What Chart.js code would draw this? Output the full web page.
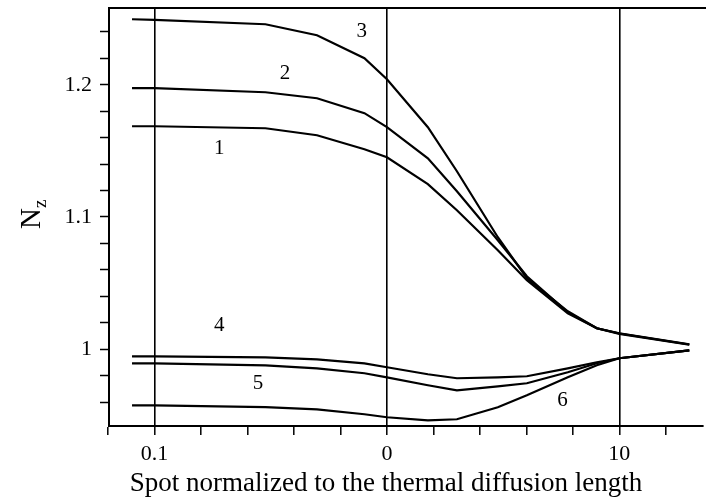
<!DOCTYPE html>
<html>
<head>
<meta charset="utf-8">
<script src="https://cdn.jsdelivr.net/npm/chart.js@4.4.0/dist/chart.umd.min.js"></script>
<style>
  html, body { margin: 0; padding: 0; background: #fff; }
  #wrap { width: 706px; height: 503px; position: relative; }
</style>
</head>
<body>
<div id="wrap"><canvas id="c"></canvas></div>
<script>
// spot size (normalized)
const spots = [0.08, 0.1, 0.3, 0.5, 0.8, 1, 1.5, 2, 3, 4, 6, 8, 10, 20];

// Nz for each curve
const curve1 = [1.1686, 1.1686, 1.1671, 1.1618, 1.1512, 1.1452, 1.1248, 1.1051, 1.0749, 1.0522, 1.0272, 1.0159, 1.0117, 1.0034];
const curve2 = [1.1974, 1.1974, 1.1943, 1.1898, 1.1785, 1.1679, 1.1444, 1.1195, 1.0824, 1.0552, 1.0280, 1.0159, 1.0119, 1.0036];
const curve3 = [1.2495, 1.2490, 1.2457, 1.2374, 1.2200, 1.2042, 1.1679, 1.1346, 1.0847, 1.0537, 1.0287, 1.0159, 1.0121, 1.0038];
const curve4 = [0.9947, 0.9947, 0.9939, 0.9924, 0.9894, 0.9864, 0.9811, 0.9781, 0.9788, 0.9796, 0.9856, 0.9902, 0.9932, 0.9992];
const curve5 = [0.9894, 0.9894, 0.9879, 0.9856, 0.9819, 0.9788, 0.9728, 0.9690, 0.9720, 0.9743, 0.9826, 0.9894, 0.9932, 0.9992];
const curve6 = [0.9576, 0.9576, 0.9562, 0.9546, 0.9509, 0.9486, 0.9463, 0.9471, 0.9562, 0.9652, 0.9788, 0.9879, 0.9932, 0.9992];

// curve number labels: [text, spot, Nz]
const curveLabels = [
    ['1', 0.19, 1.152],
    ['2', 0.364, 1.2087],
    ['3', 0.78, 1.2405],
    ['4', 0.19, 1.0181],
    ['5', 0.279, 0.9743],
    ['6', 5.7, 0.9614]
];

// x tick labels as printed in the figure (decade -> text)
const xTickText = { '-1': '0.1', '0': '0', '1': '10' };
const yTickText = { '1': '1', '1.1': '1.1', '1.2': '1.2' };

const serif = "'Liberation Serif', 'DejaVu Serif', serif";

function toPoints(values) {
    return spots.map((s, i) => ({ x: Math.log10(s), y: values[i] }));
}

const allCurves = [curve1, curve2, curve3, curve4, curve5, curve6];
const datasets = allCurves.map(v => ({
    data: toPoints(v),
    borderColor: '#000',
    borderWidth: 2.2,
    pointRadius: 0,
    tension: 0,
    fill: false
}));

const figurePlugin = {
    id: 'figureText',
    afterDraw(chart) {
        const ctx = chart.ctx;
        const area = chart.chartArea;
        const xs = chart.scales.x, ys = chart.scales.y;
        ctx.save();
        // top frame line
        ctx.strokeStyle = '#000';
        ctx.lineWidth = 2;
        ctx.beginPath();
        ctx.moveTo(area.left, area.top);
        ctx.lineTo(chart.width, area.top);
        ctx.stroke();

        ctx.fillStyle = '#000';
        ctx.font = '21px ' + serif;
        ctx.textAlign = 'center';
        ctx.textBaseline = 'middle';
        curveLabels.forEach(([t, sx, sy]) => {
            ctx.fillText(t, xs.getPixelForValue(Math.log10(sx)), ys.getPixelForValue(sy));
        });

        // x axis title
        ctx.font = '27px ' + serif;
        ctx.fillText('Spot normalized to the thermal diffusion length', 386, 484);

        // y axis title N_z
        ctx.translate(40, 229);
        ctx.rotate(-Math.PI / 2);
        ctx.textAlign = 'left';
        ctx.textBaseline = 'alphabetic';
        ctx.font = '29px ' + serif;
        ctx.fillText('N', 0, 0);
        const w = ctx.measureText('N').width;
        ctx.font = '19px ' + serif;
        ctx.fillText('z', w, 6);
        ctx.restore();
    }
};

new Chart(document.getElementById('c'), {
    type: 'line',
    data: { datasets: datasets },
    options: {
        responsive: true,
        maintainAspectRatio: false,
        animation: false,
        layout: { padding: { top: 8, right: 3, left: 0, bottom: 0 } },
        plugins: { legend: { display: false }, tooltip: { enabled: false } },
        scales: {
            x: {
                type: 'linear',
                min: -1.196,
                max: 1.36,
                afterBuildTicks(scale) {
                    const t = [];
                    for (let k = -6; k <= 6; k++) t.push({ value: k / 5 });
                    scale.ticks = t;
                },
                afterFit(scale) {
                    scale.height = 77;
                    scale.paddingLeft = 0;
                    scale.paddingRight = 0;
                },
                border: { display: true, color: '#000', width: 2 },
                grid: {
                    drawOnChartArea: true,
                    drawTicks: true,
                    tickLength: 9,
                    tickColor: '#000',
                    tickWidth: 1.5,
                    lineWidth: 1.6,
                    color: c => (c.tick && Math.abs(c.tick.value - Math.round(c.tick.value)) < 1e-6 ? '#000' : 'rgba(0,0,0,0)')
                },
                ticks: {
                    autoSkip: false,
                    maxRotation: 0,
                    color: '#000',
                    padding: 6,
                    font: { family: serif, size: 22 },
                    callback: v => {
                        const k = Math.round(v);
                        return Math.abs(v - k) < 1e-6 && xTickText[k] !== undefined ? xTickText[k] : '';
                    }
                }
            },
            y: {
                type: 'linear',
                min: 0.942,
                max: 1.258,
                afterBuildTicks(scale) {
                    const t = [];
                    for (let k = 48; k <= 62; k++) t.push({ value: k / 50 });
                    scale.ticks = t;
                },
                afterFit(scale) {
                    scale.width = 109;
                    scale.paddingTop = 0;
                    scale.paddingBottom = 0;
                },
                border: { display: true, color: '#000', width: 2 },
                grid: {
                    drawOnChartArea: false,
                    drawTicks: true,
                    tickLength: 9,
                    tickColor: '#000',
                    tickWidth: 1.5
                },
                ticks: {
                    autoSkip: false,
                    color: '#000',
                    padding: 8,
                    font: { family: serif, size: 22 },
                    callback: v => {
                        const k = (Math.round(v * 10) / 10);
                        return Math.abs(v - k) < 1e-6 && yTickText[String(k)] !== undefined ? yTickText[String(k)] : '';
                    }
                }
            }
        }
    },
    plugins: [figurePlugin]
});
</script>
</body>
</html>
